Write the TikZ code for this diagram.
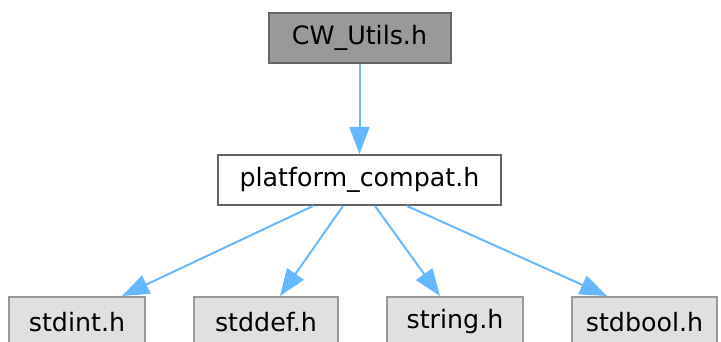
\documentclass[tikz,border=0pt]{standalone}
\usepackage{fontspec}
\setmainfont{DejaVu Sans}
\usetikzlibrary{arrows.meta}
\definecolor{edgeblue}{HTML}{63B8FF}
\definecolor{boxline}{HTML}{666666}
\definecolor{sysline}{HTML}{999999}
\definecolor{sysfill}{HTML}{E0E0E0}
\begin{document}
\begin{tikzpicture}[x=1pt,y=-1pt,
    file/.style={draw=boxline, line width=2pt, minimum height=50pt, inner xsep=4pt, font=\fontsize{25.3}{30}\selectfont},
    sysfile/.style={file, draw=sysline, fill=sysfill},
    dep/.style={draw=edgeblue, line width=2pt, -{Triangle[length=27pt,width=20pt]}}]
  \useasboundingbox (0,0) rectangle (721,342);
  % the header and what it pulls in
  \node[file, fill=black!40, minimum width=182pt] (utils) at (359.5,37.7) {CW\_Utils.h};
  \node[file, fill=white, minimum width=283pt] (compat) at (359.5,180) {platform\_compat.h};
  \node[sysfile, minimum width=136.5pt] (stdint) at (77,322) {stdint.h};
  \node[sysfile, minimum width=144pt] (stddef) at (266,322) {stddef.h};
  \node[sysfile, minimum width=136pt] (string) at (455,322) {string.h};
  \node[sysfile, minimum width=145pt] (stdbool) at (644.5,322) {stdbool.h};
  \draw[dep] (utils.south) -- (compat.north);
  \draw[dep] ([xshift=-46.5]compat.south) -- ([xshift=45]stdint.north);
  \draw[dep] ([xshift=-16.5]compat.south) -- ([xshift=14]stddef.north);
  \draw[dep] ([xshift=15.5]compat.south) -- ([xshift=-15]string.north);
  \draw[dep] ([xshift=47.5]compat.south) -- ([xshift=-37.5]stdbool.north);
\end{tikzpicture}
\end{document}
